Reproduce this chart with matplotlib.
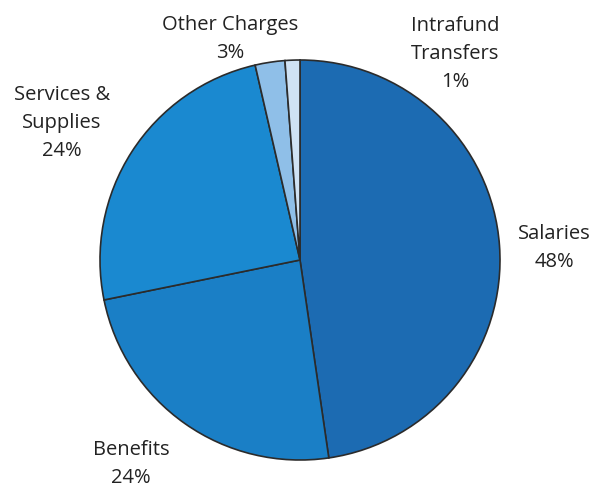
import matplotlib
matplotlib.use("Agg")
import matplotlib.pyplot as plt

categories = ["Salaries", "Benefits", "Services &\nSupplies", "Other Charges", "Intrafund\nTransfers"]
values = [47.7, 24.1, 24.6, 2.4, 1.2]
pct_labels = ["48%", "24%", "24%", "3%", "1%"]
colors = ["#1c6bb2", "#1a7fc6", "#1a89d0", "#8fbfe8", "#cfe2f4"]

W, H = 610, 489
fig = plt.figure(figsize=(W / 100, H / 100), dpi=100)
ax = fig.add_axes([0, 0, 1, 1])

cx, cy, r = 300, 261, 200
wedges, _ = ax.pie(values, colors=colors, startangle=-90, counterclock=True,
                   center=(cx, cy), radius=r, frame=True,
                   wedgeprops=dict(edgecolor="#2b2b2b", linewidth=1.2))
ax.set_xlim(0, W)
ax.set_ylim(H, 0)
ax.set_aspect("equal")
ax.axis("off")

label_pos = [(554, 248), (131, 464), (62, 123), (230, 39), (455, 54)]
for name, pct, (x, y) in zip(categories, pct_labels, label_pos):
    ax.text(x, y, name + "\n" + pct, ha="center", va="center",
            fontsize=14.5, family="Open Sans", color="#222222", linespacing=1.55)

fig.savefig("out.png", dpi=100)
